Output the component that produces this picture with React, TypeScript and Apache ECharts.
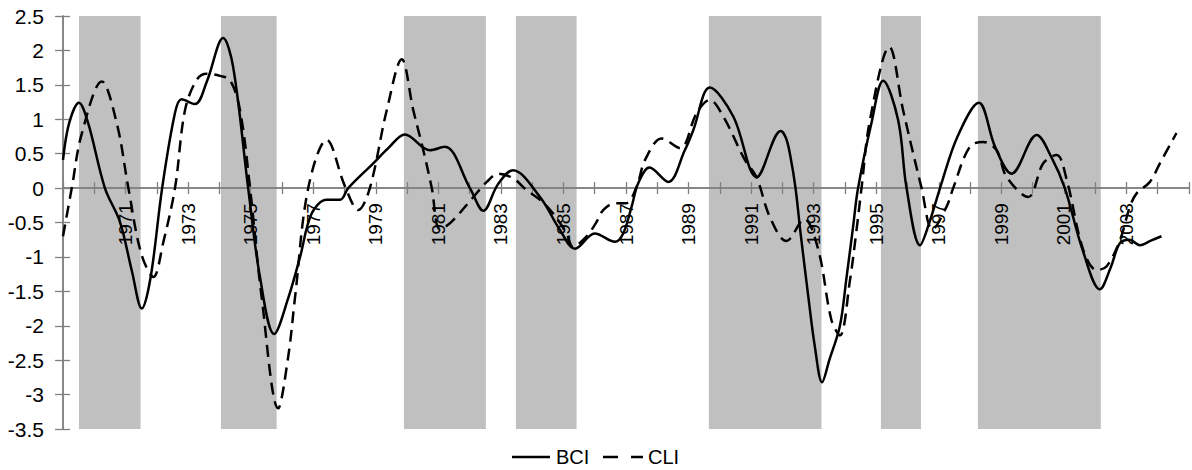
import React, { useEffect, useRef } from "react";
import * as echarts from "echarts";

const bciYears = [
  1969.0, 1969.2, 1969.51, 1969.8, 1970.34, 1970.82, 1971.2, 1971.52, 1971.8, 1972.17,
  1972.58, 1972.79, 1973.22, 1973.6, 1974.12, 1974.44, 1974.92, 1975.3, 1975.75, 1976.2,
  1976.58, 1976.95, 1977.43, 1977.86, 1978.12, 1978.92, 1979.4, 1979.93, 1980.73, 1981.21,
  1982.01, 1982.44, 1982.9, 1983.38, 1984.25, 1984.89, 1985.37, 1986.0, 1986.65, 1986.91,
  1987.18, 1987.39, 1987.75, 1988.35, 1988.88, 1989.15, 1989.68, 1990.43, 1991.18, 1991.95,
  1992.12, 1992.26, 1992.42, 1992.58, 1992.83, 1993.04, 1993.27, 1993.5, 1993.84, 1994.05,
  1994.25, 1994.42, 1994.85, 1995.22, 1995.7, 1995.97, 1996.4, 1996.7, 1997.04, 1997.6,
  1998.28, 1998.8, 1999.33, 2000.13, 2000.6, 2001.03, 2001.6, 2002.15, 2002.5, 2002.79,
  2003.1, 2003.43, 2003.8, 2004.12,
];
const bciValues = [
  0.41, 0.95, 1.24, 0.95, 0.0, -0.49, -1.2, -1.75, -1.3, 0.0,
  1.09, 1.29, 1.22, 1.55, 2.18, 1.76, 0.0, -1.3, -2.12, -1.6,
  -1.0, -0.37, -0.17, -0.17, 0.0, 0.36, 0.58, 0.78, 0.55, 0.6,
  0.0, -0.33, 0.05, 0.26, -0.13, -0.61, -0.88, -0.66, -0.78, -0.66,
  -0.27, 0.07, 0.3, 0.09, 0.55, 0.84, 1.46, 1.04, 0.16, 0.83,
  0.72, 0.45, 0.0, -0.65, -1.58, -2.31, -2.82, -2.5, -2.0, -1.3,
  -0.6, 0.0, 0.95, 1.56, 0.99, 0.0, -0.83, -0.5, 0.0, 0.75,
  1.24, 0.6, 0.21, 0.77, 0.45, 0.0, -0.9, -1.47, -1.15, -0.8,
  -0.75, -0.83, -0.76, -0.7,
];

const cliYears = [
  1969.0, 1969.28, 1969.6, 1970.24, 1970.72, 1971.09, 1971.5, 1971.89, 1972.2, 1972.58,
  1972.9, 1973.27, 1973.59, 1974.02, 1974.34, 1974.66, 1974.98, 1975.35, 1975.88, 1976.2,
  1976.42, 1976.84, 1977.43, 1978.02, 1978.44, 1978.81, 1979.35, 1979.83, 1980.2, 1980.52,
  1980.79, 1981.05, 1981.42, 1982.12, 1982.55, 1982.92, 1983.4, 1983.82, 1984.25, 1984.67,
  1985.1, 1985.3, 1985.74, 1986.06, 1986.27, 1986.65, 1987.0, 1987.34, 1987.61, 1988.14,
  1988.73, 1989.26, 1989.68, 1990.11, 1990.8, 1991.17, 1991.6, 1992.13, 1992.7, 1993.15,
  1993.57, 1993.84, 1994.16, 1994.37, 1994.53, 1994.8, 1995.42, 1995.86, 1996.45, 1996.8,
  1997.25, 1997.46, 1997.99, 1998.42, 1998.85, 1999.17, 1999.86, 2000.34, 2000.77, 2001.09,
  2001.62, 2002.05, 2002.36, 2002.79, 2003.11, 2003.32, 2003.75, 2004.07, 2004.6,
];
const cliValues = [
  -0.7, 0.0, 0.79, 1.55, 0.94, 0.0, -0.95, -1.29, -0.8, 0.0,
  1.13, 1.57, 1.66, 1.63, 1.57, 1.13, 0.0, -1.58, -3.2, -2.45,
  -1.58, 0.0, 0.7, 0.02, -0.32, 0.0, 1.13, 1.87, 1.13, 0.55,
  0.0, -0.6, -0.49, -0.13, 0.09, 0.21, 0.14, -0.03, -0.17, -0.37,
  -0.66, -0.85, -0.7, -0.49, -0.32, -0.22, -0.22, 0.02, 0.41, 0.72,
  0.58, 1.09, 1.28, 1.04, 0.41, 0.16, -0.42, -0.77, -0.45, -0.9,
  -1.92, -2.14, -1.34, -0.61, 0.0, 0.99, 2.05, 1.13, 0.0, -0.6,
  -0.27, 0.0, 0.6, 0.67, 0.55, 0.16, -0.13, 0.36, 0.48, 0.12,
  -0.9, -1.19, -1.14, -0.76, -0.27, -0.08, 0.09, 0.36, 0.8,
];

const recessionStarts = [1969.51, 1974.05, 1979.9, 1983.48, 1989.65, 1995.15, 1998.25];
const recessionEnds = [1971.48, 1975.83, 1982.52, 1985.42, 1993.25, 1996.43, 2002.18];

const xLabelYears = [
  1971, 1973, 1975, 1977, 1979, 1981, 1983, 1985, 1987, 1989, 1991, 1993, 1995, 1997,
  1999, 2001, 2003,
];

const seriesNames = ["BCI", "CLI"];

const FONT = "Liberation Sans";
const AXIS_GRAY = "#808080";

const Y_MIN = -3.5;
const Y_MAX = 2.5;
const GRID_TOP = 16;
const GRID_BOTTOM = 41;
const HEIGHT = 470;

function zip(xs: number[], ys: number[]) {
  return xs.map((x, i) => [x, ys[i]]);
}

export default function App() {
  const ref = useRef<HTMLDivElement>(null);

  useEffect(() => {
    if (!ref.current) return;
    const chart = echarts.init(ref.current, undefined, { renderer: "svg" });

    // move the x axis from the grid bottom up to the zero line
    const gridH = HEIGHT - GRID_TOP - GRID_BOTTOM;
    const zeroOffset = -(gridH * (0 - Y_MIN)) / (Y_MAX - Y_MIN);

    const xBase = {
      type: "value" as const,
      min: 1969,
      max: 2005,
      interval: 1,
      z: 3,
      position: "bottom" as const,
      offset: zeroOffset,
      splitLine: { show: false },
      axisLine: { show: true, onZero: false, lineStyle: { color: AXIS_GRAY, width: 1.5 } },
    };
    const yBase = {
      type: "value" as const,
      min: Y_MIN,
      max: Y_MAX,
      interval: 0.5,
      z: 3,
      position: "left" as const,
      splitLine: { show: false },
      axisLine: { show: true, onZero: false, lineStyle: { color: AXIS_GRAY, width: 1.5 } },
    };

    const legendY = 457;

    chart.setOption({
      animation: false,
      grid: { left: 63, right: 3, top: GRID_TOP, bottom: GRID_BOTTOM, containLabel: false },
      xAxis: [
        {
          ...xBase,
          axisTick: { show: true, inside: false, length: 6, lineStyle: { color: AXIS_GRAY, width: 1.3 } },
          axisLabel: {
            show: true,
            rotate: 90,
            margin: 15,
            fontSize: 19,
            fontFamily: FONT,
            color: "#000",
            hideOverlap: false,
            formatter: (v: number) =>
              xLabelYears.indexOf(Math.round(v)) >= 0 ? String(Math.round(v)) : "",
          },
        },
        {
          ...xBase,
          axisTick: { show: true, inside: true, length: 6, lineStyle: { color: AXIS_GRAY, width: 1.3 } },
          axisLabel: { show: false },
        },
      ],
      yAxis: [
        {
          ...yBase,
          axisTick: { show: true, inside: false, length: 8, lineStyle: { color: AXIS_GRAY, width: 1.3 } },
          axisLabel: { show: true, margin: 19, fontSize: 21, fontFamily: FONT, color: "#000" },
        },
        {
          ...yBase,
          axisTick: { show: true, inside: true, length: 7, lineStyle: { color: AXIS_GRAY, width: 1.3 } },
          axisLabel: { show: false },
        },
      ],
      graphic: [
        {
          type: "line",
          shape: { x1: 512, y1: legendY, x2: 550, y2: legendY },
          style: { stroke: "#000", lineWidth: 2.5 },
        },
        {
          type: "text",
          x: 556,
          y: legendY,
          style: { text: seriesNames[0], fontSize: 20, fontFamily: FONT, fill: "#000", verticalAlign: "middle" },
        },
        {
          type: "line",
          shape: { x1: 603, y1: legendY, x2: 643, y2: legendY },
          style: { stroke: "#000", lineWidth: 2.5, lineDash: [15, 13] },
        },
        {
          type: "text",
          x: 648,
          y: legendY,
          style: { text: seriesNames[1], fontSize: 20, fontFamily: FONT, fill: "#000", verticalAlign: "middle" },
        },
      ],
      series: [
        {
          name: "bands",
          type: "line",
          z: 0,
          data: [],
          silent: true,
          markArea: {
            silent: true,
            itemStyle: { color: "#C0C0C0", opacity: 1 },
            data: recessionStarts.map((s, i) => [{ xAxis: s }, { xAxis: recessionEnds[i] }]),
          },
        },
        {
          name: seriesNames[0],
          type: "line",
          z: 5,
          data: zip(bciYears, bciValues),
          symbol: "none",
          smooth: 0.35,
          lineStyle: { color: "#000", width: 2.5 },
          itemStyle: { color: "#000" },
        },
        {
          name: seriesNames[1],
          type: "line",
          z: 5,
          data: zip(cliYears, cliValues),
          symbol: "none",
          smooth: 0.35,
          lineStyle: { color: "#000", width: 2.5, type: [12, 7] },
          itemStyle: { color: "#000" },
        },
      ],
    });

    return () => chart.dispose();
  }, []);

  return (
    <div
      ref={ref}
      style={{ position: "absolute", left: 0, top: 0, width: 1192, height: 470, background: "#fff" }}
    />
  );
}
